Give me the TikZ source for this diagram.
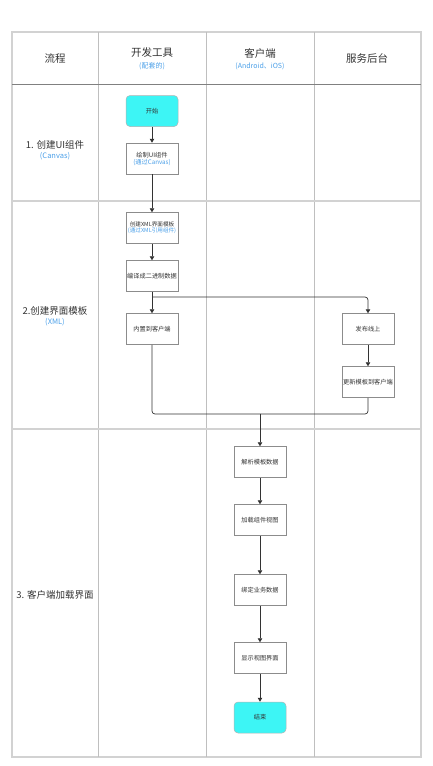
\documentclass[tikz,border=0pt]{standalone}
\usepackage{fontspec}
\setmainfont{Noto Sans CJK SC}
\usetikzlibrary{arrows.meta,positioning}
\definecolor{termcyan}{HTML}{3DF5F5}
\definecolor{subblue}{HTML}{4A9FE8}
\definecolor{txtgray}{HTML}{333333}
\definecolor{gridgray}{HTML}{D2D2D2}

\begin{document}
\begin{tikzpicture}[x=1pt,y=-1pt,
every node/.style={text=txtgray,inner sep=0pt},
stepbox/.style={draw=black!45,line width=0.5pt,fill=white,minimum width=52,minimum height=31,font=\fontsize{6.2}{8}\selectfont,align=center},
termbox/.style={stepbox,draw=black!30,fill=termcyan,rounded corners=4},
flow/.style={draw=txtgray,line width=0.7pt,-{Triangle[length=4,width=4.5]}},
joinline/.style={draw=txtgray,line width=0.7pt,rounded corners=3},
head/.style={font=\fontsize{10.5}{12}\selectfont},
rowlab/.style={font=\fontsize{9.5}{11}\selectfont},
sub/.style={text=subblue,font=\fontsize{7}{8}\selectfont}]
\useasboundingbox (0,0) rectangle (432,766);
% table
\draw[gridgray,line width=1.2pt] (12,32) rectangle (421,757);
\foreach \x in {98,206,314}
  \draw[black!25,line width=1pt] (\x,32) -- (\x,757);
\draw[black!50,line width=0.9pt] (12,84) -- (421,84);
\draw[gridgray,line width=1.2pt] (12,201) -- (421,201);
\draw[gridgray,line width=1.2pt] (12,429) -- (421,429);
% header
\node[head] (H1) at (55,58) {流程};
\node[head] (H2) at (152,53) {开发工具};
\node[sub] (H2s) at (152,66) {(配套的)};
\node[head] (H3) at (260,53) {客户端};
\node[sub] (H3s) at (260,66) {(Android、iOS)};
\node[head] (H4) at (367,58) {服务后台};
% rows
\node[rowlab] (R1) at (55,145) {1. 创建UI组件};
\node[sub,font=\fontsize{7.5}{9}\selectfont] (R1s) at (55,156) {(Canvas)};
\node[rowlab] (R2) at (55,311) {2.创建界面模板};
\node[sub,font=\fontsize{7.5}{9}\selectfont] (R2s) at (55,322) {(XML)};
\node[rowlab] (R3) at (55,595) {3. 客户端加载界面};
% steps
\node[termbox] (S1) at (152,111) {开始};
\node[stepbox] (S2) at (152,158.5) {绘制UI组件\\[-1pt]{\color{subblue}(通过Canvas)}};
\node[stepbox,font=\fontsize{5.6}{7}\selectfont] (S3) at (152,228) {创建XML界面模板\\[-1pt]{\color{subblue}(通过XML引用组件)}};
\node[stepbox] (S4) at (152,276) {编译成二进制数据};
\node[stepbox] (S5) at (152,329) {内置到客户端};
\node[stepbox] (P1) at (368,329) {发布线上};
\node[stepbox] (P2) at (368,382) {更新模板到客户端};
\node[stepbox] (C1) at (260,462) {解析模板数据};
\node[stepbox] (C2) at (260,520) {加载组件视图};
\node[stepbox] (C3) at (260,590) {绑定业务数据};
\node[stepbox] (C4) at (260,658) {显示视图界面};
\node[termbox] (C5) at (260,717.5) {结束};
\coordinate (split) at (152,297);
\coordinate (join) at (260,414);
% connectors
\draw[flow] (S1)--(S2);
\draw[flow] (S2)--(S3);
\draw[flow] (S3)--(S4);
\draw[flow] (S4)--(S5);
\draw[flow,rounded corners=3] (split) -| (P1);
\draw[flow] (P1)--(P2);
\draw[joinline] (S5) |- (join);
\draw[joinline] (P2) |- (join);
\draw[flow] (join)--(C1);
\draw[flow] (C1)--(C2);
\draw[flow] (C2)--(C3);
\draw[flow] (C3)--(C4);
\draw[flow] (C4)--(C5);
\end{tikzpicture}
\end{document}
